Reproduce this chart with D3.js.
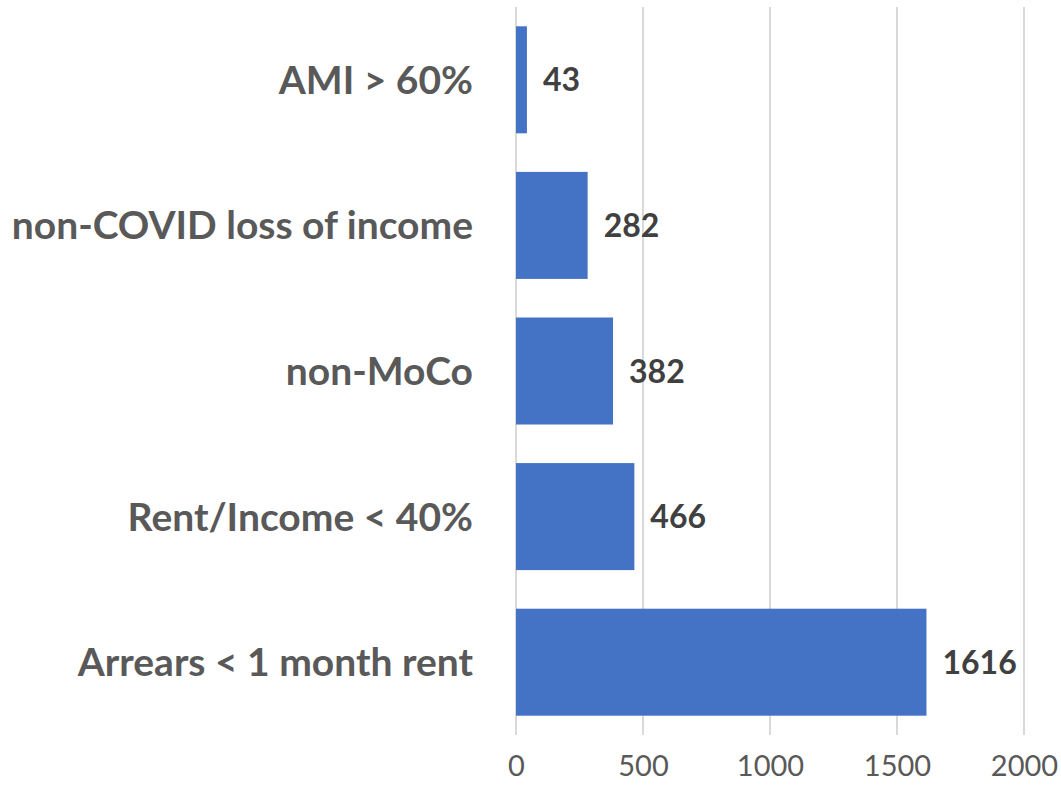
<!DOCTYPE html>
<html>
<head>
<meta charset="utf-8">
<script src="https://cdn.jsdelivr.net/npm/d3@7"></script>
<style>
  body { margin: 0; background: #fff; }
  svg text { font-family: Lato, "Open Sans", sans-serif; }
</style>
</head>
<body>
<div id="chart"></div>
<script>
// categories, top to bottom
var categories = ['AMI > 60%', 'non-COVID loss of income', 'non-MoCo', 'Rent/Income < 40%', 'Arrears < 1 month rent'];
var values = [43, 282, 382, 466, 1616];
var tickValues = [0, 500, 1000, 1500, 2000];

var width = 1061;
var height = 786;
var padding = {top: 7, right: 37, bottom: 51, left: 516};

var xScale = d3.scaleLinear()
    .domain([0, 2000])
    .range([0, width - padding.left - padding.right]);
var yScale = d3.scaleBand()
    .domain(categories)
    .range([0, height - padding.top - padding.bottom])
    .paddingInner(0.265)
    .paddingOuter(0.1325);

var svg = d3.select('#chart')
    .append('svg')
    .attr('width', width)
    .attr('height', height);

var g = svg.append('g')
    .attr('transform', 'translate(' + padding.left + ',' + padding.top + ')');

// gridlines
g.append('g')
    .selectAll('line')
    .data(tickValues)
    .enter()
    .append('line')
    .attr('x1', function (d) { return xScale(d); })
    .attr('x2', function (d) { return xScale(d); })
    .attr('y1', 0)
    .attr('y2', height - padding.top - padding.bottom)
    .attr('stroke', '#d9d9d9')
    .attr('stroke-width', 2);

// x axis labels
var xAxis = d3.axisBottom(xScale)
    .tickValues(tickValues)
    .tickFormat(d3.format('d'))
    .tickSize(0)
    .tickPadding(20);
var ax = g.append('g')
    .attr('transform', 'translate(0,' + (height - padding.top - padding.bottom) + ')')
    .call(xAxis);
ax.select('.domain').remove();
ax.selectAll('text')
    .attr('font-size', 29)
    .attr('font-family', 'Lato, sans-serif')
    .attr('fill', '#595959');

// bars
g.append('g')
    .selectAll('rect')
    .data(values)
    .enter()
    .append('rect')
    .attr('x', 0)
    .attr('y', function (d, i) { return yScale(categories[i]); })
    .attr('width', function (d) { return xScale(d); })
    .attr('height', yScale.bandwidth())
    .attr('fill', '#4472c4');

// value labels
g.append('g')
    .selectAll('text')
    .data(values)
    .enter()
    .append('text')
    .attr('x', function (d) { return xScale(d) + 16; })
    .attr('y', function (d, i) { return yScale(categories[i]) + yScale.bandwidth() / 2; })
    .attr('dy', '0.36em')
    .attr('font-size', 32)
    .attr('font-weight', 'bold')
    .attr('fill', '#404040')
    .text(function (d) { return d; });

// category labels
g.append('g')
    .selectAll('text')
    .data(categories)
    .enter()
    .append('text')
    .attr('x', -43)
    .attr('y', function (d) { return yScale(d) + yScale.bandwidth() / 2; })
    .attr('dy', '0.36em')
    .attr('text-anchor', 'end')
    .attr('font-size', 39)
    .attr('font-weight', 'bold')
    .attr('fill', '#595959')
    .text(function (d) { return d; });
</script>
</body>
</html>
